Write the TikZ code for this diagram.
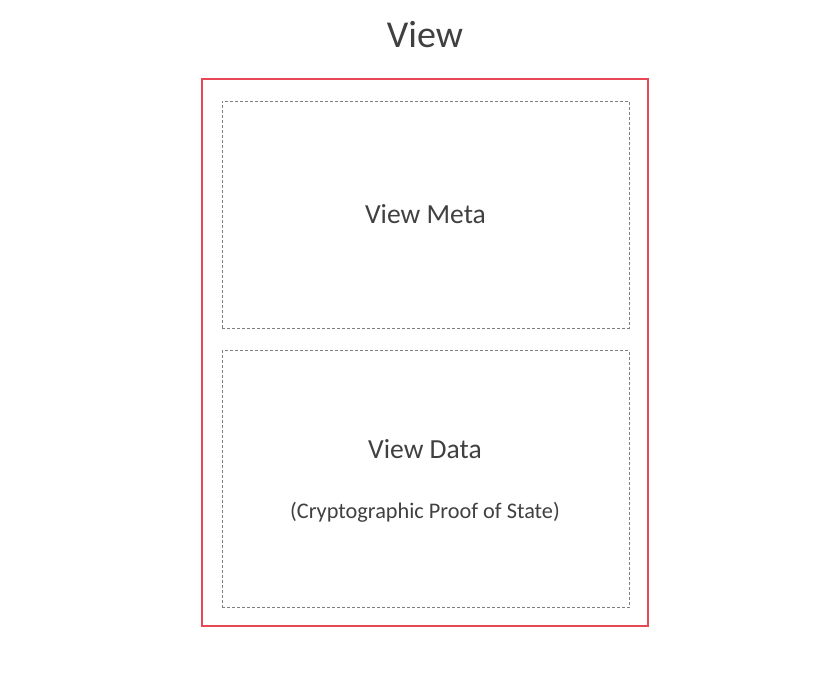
\documentclass[tikz,border=0pt]{standalone}
\usepackage{fontspec}
\setmainfont{Carlito}
\usetikzlibrary{positioning}

\definecolor{viewred}{RGB}{232,72,86}
\definecolor{textgray}{RGB}{64,64,64}

\begin{document}
\begin{tikzpicture}[x=1pt, y=-1pt,
  outer/.style={draw=viewred, line width=2pt, inner sep=0pt},
  part/.style={draw=gray, dashed, line width=0.6pt, dash pattern=on 3pt off 2pt, inner sep=0pt},
  label/.style={text=textgray, inner sep=0pt}]

  \useasboundingbox (0,0) rectangle (839,689);

  % Define nodes
  \node[label, font=\fontsize{38}{46}\selectfont] (title) at (425,35) {View};
  \node[outer, minimum width=446pt, minimum height=547pt] (view) at (425,352.5) {};
  \node[part, minimum width=407pt, minimum height=227pt] (meta) at (425.5,214.5) {};
  \node[part, minimum width=407pt, minimum height=257pt, below=22pt of meta] (data) {};

  % Texts
  \node[label, font=\fontsize{27.6}{33}\selectfont] (metatext) at (meta) {View Meta};
  \node[label, font=\fontsize{27.6}{33}\selectfont] (datatext) at (425,449) {View Data};
  \node[label, font=\fontsize{22.3}{27}\selectfont] (proof) at (425,512) {(Cryptographic Proof of State)};

\end{tikzpicture}
\end{document}
